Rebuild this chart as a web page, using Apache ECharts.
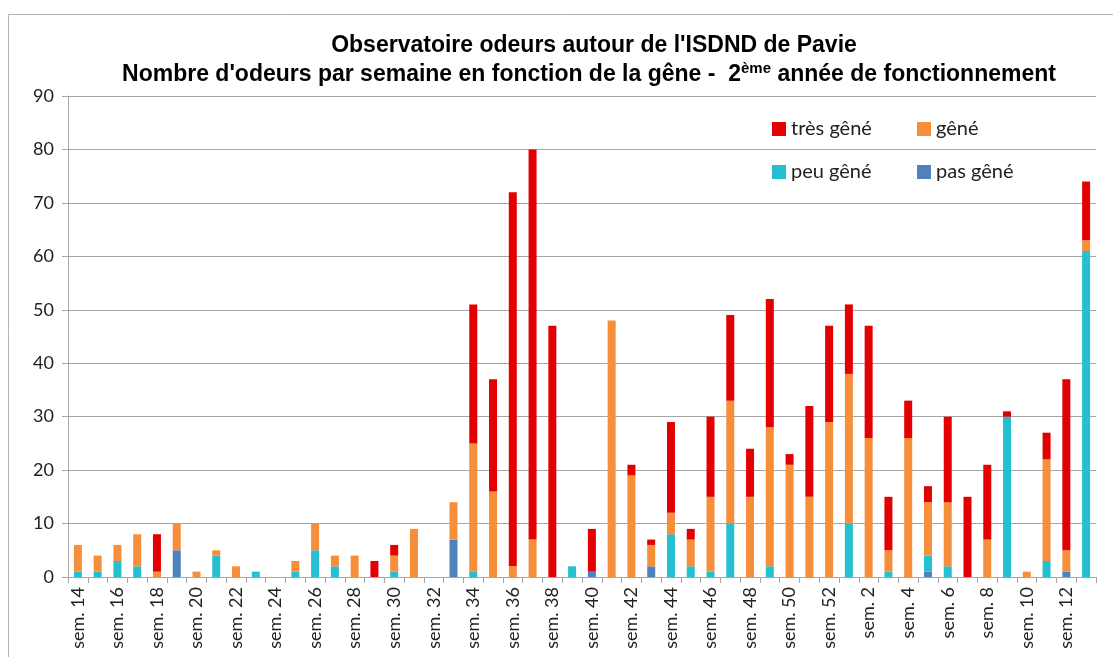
<!DOCTYPE html>
<html>
<head>
<meta charset="utf-8">
<script src="https://cdn.jsdelivr.net/npm/echarts@6/dist/echarts.min.js"></script>
<style>
  html, body { margin: 0; padding: 0; background: #fff; }
  #chart { width: 1113px; height: 657px; }
</style>
</head>
<body>
<div id="chart"></div>
<script>
// semaines (2e année) : sem. 14 .. sem. 52, puis sem. 1 .. sem. 13
const weeks = [
  "sem. 14", "sem. 15", "sem. 16", "sem. 17", "sem. 18", "sem. 19", "sem. 20", "sem. 21",
  "sem. 22", "sem. 23", "sem. 24", "sem. 25", "sem. 26", "sem. 27", "sem. 28", "sem. 29",
  "sem. 30", "sem. 31", "sem. 32", "sem. 33", "sem. 34", "sem. 35", "sem. 36", "sem. 37",
  "sem. 38", "sem. 39", "sem. 40", "sem. 41", "sem. 42", "sem. 43", "sem. 44", "sem. 45",
  "sem. 46", "sem. 47", "sem. 48", "sem. 49", "sem. 50", "sem. 51", "sem. 52", "sem. 1",
  "sem. 2", "sem. 3", "sem. 4", "sem. 5", "sem. 6", "sem. 7", "sem. 8", "sem. 9",
  "sem. 10", "sem. 11", "sem. 12", "sem. 13"
];

const pasGene = [
  0, 0, 0, 0, 0, 5, 0, 0, 0, 0, 0, 0, 0, 0, 0, 0,
  0, 0, 0, 7, 0, 0, 0, 0, 0, 0, 1, 0, 0, 2, 0, 0,
  0, 0, 0, 0, 0, 0, 0, 0, 0, 0, 0, 1, 0, 0, 0, 0,
  0, 0, 1, 0
];
const peuGene = [
  1, 1, 3, 2, 0, 0, 0, 4, 0, 1, 0, 1, 5, 2, 0, 0,
  1, 0, 0, 0, 1, 0, 0, 0, 0, 2, 0, 0, 0, 0, 8, 2,
  1, 10, 0, 2, 0, 0, 0, 10, 0, 1, 0, 3, 2, 0, 0, 30,
  0, 3, 0, 61
];
const gene = [
  5, 3, 3, 6, 1, 5, 1, 1, 2, 0, 0, 2, 5, 2, 4, 0,
  3, 9, 0, 7, 24, 16, 2, 7, 0, 0, 0, 48, 19, 4, 4, 5,
  14, 23, 15, 26, 21, 15, 29, 28, 26, 4, 26, 10, 12, 0, 7, 0,
  1, 19, 4, 2
];
const tresGene = [
  0, 0, 0, 0, 7, 0, 0, 0, 0, 0, 0, 0, 0, 0, 0, 3,
  2, 0, 0, 0, 26, 21, 70, 73, 47, 0, 8, 0, 2, 1, 17, 2,
  15, 16, 9, 24, 2, 17, 18, 13, 21, 10, 7, 3, 16, 15, 14, 1,
  0, 5, 32, 11
];

const yTicks = [0, 10, 20, 30, 40, 50, 60, 70, 80, 90];

const colors = {
  tres: "#E30000",
  gene: "#F68E3A",
  peu: "#25BFCF",
  pas: "#4F81BD"
};

var chartDom = document.getElementById("chart");
var myChart = echarts.init(chartDom, null, { renderer: "canvas" });
var option;

const labelFont = "Lato, 'Open Sans', sans-serif";
const titleFont = "'Liberation Sans', Arial, sans-serif";

function legendAt(name, left, top) {
  return {
    data: [name],
    left: left,
    top: top,
    itemWidth: 14,
    itemHeight: 14,
    itemGap: 6,
    icon: "rect",
    selectedMode: false,
    textStyle: { fontFamily: labelFont, fontSize: 20, color: "#222" }
  };
}

function barSeries(name, data, color) {
  return {
    name: name,
    type: "bar",
    stack: "total",
    barWidth: 8,
    itemStyle: { color: color },
    data: data
  };
}

option = {
  animation: false,
  backgroundColor: "#fff",
  title: [
    {
      text: "Observatoire odeurs autour de l'ISDND de Pavie",
      left: 589,
      top: 29,
      textAlign: "center",
      textStyle: {
        fontFamily: titleFont,
        fontWeight: "bold",
        fontSize: 23,
        color: "#000"
      }
    },
    {
      text: "Nombre d'odeurs par semaine en fonction de la gêne -  2{sup|ème} année de fonctionnement",
      left: 584,
      top: 56,
      textAlign: "center",
      textStyle: {
        fontFamily: titleFont,
        fontWeight: "bold",
        fontSize: 23,
        color: "#000",
        rich: {
          sup: {
            fontFamily: titleFont,
            fontWeight: "bold",
            fontSize: 15,
            color: "#000",
            verticalAlign: "top",
            padding: [0, 0, 12, 0]
          }
        }
      }
    }
  ],
  legend: [
    legendAt("très gêné", 767, 114),
    legendAt("gêné", 912, 114),
    legendAt("peu gêné", 767, 157),
    legendAt("pas gêné", 912, 157)
  ],
  graphic: [
    {
      type: "polyline",
      silent: true,
      shape: { points: [[8.5, 657], [8.5, 14.5], [1113, 14.5]] },
      style: { stroke: "#B5B5B5", lineWidth: 1, fill: null }
    }
  ],
  grid: {
    left: 68,
    right: 17,
    top: 96,
    bottom: 80,
    containLabel: false
  },
  xAxis: {
    type: "category",
    data: weeks,
    boundaryGap: true,
    axisLine: { show: true, lineStyle: { color: "#A6A6A6" } },
    axisTick: { show: true, interval: 0, length: 6, lineStyle: { color: "#A6A6A6" } },
    axisLabel: {
      interval: 1,
      rotate: 90,
      margin: 10,
      fontFamily: labelFont,
      fontSize: 18,
      color: "#222"
    }
  },
  yAxis: {
    type: "value",
    min: yTicks[0],
    max: yTicks[yTicks.length - 1],
    interval: 10,
    axisLine: { show: true, lineStyle: { color: "#A6A6A6" } },
    axisTick: { show: true, length: 6, lineStyle: { color: "#A6A6A6" } },
    axisLabel: {
      margin: 14,
      fontFamily: labelFont,
      fontSize: 18,
      color: "#222"
    },
    splitLine: { show: true, lineStyle: { color: "#A6A6A6", width: 1 } }
  },
  series: [
    barSeries("pas gêné", pasGene, colors.pas),
    barSeries("peu gêné", peuGene, colors.peu),
    barSeries("gêné", gene, colors.gene),
    barSeries("très gêné", tresGene, colors.tres)
  ]
};

option && myChart.setOption(option);
</script>
</body>
</html>
